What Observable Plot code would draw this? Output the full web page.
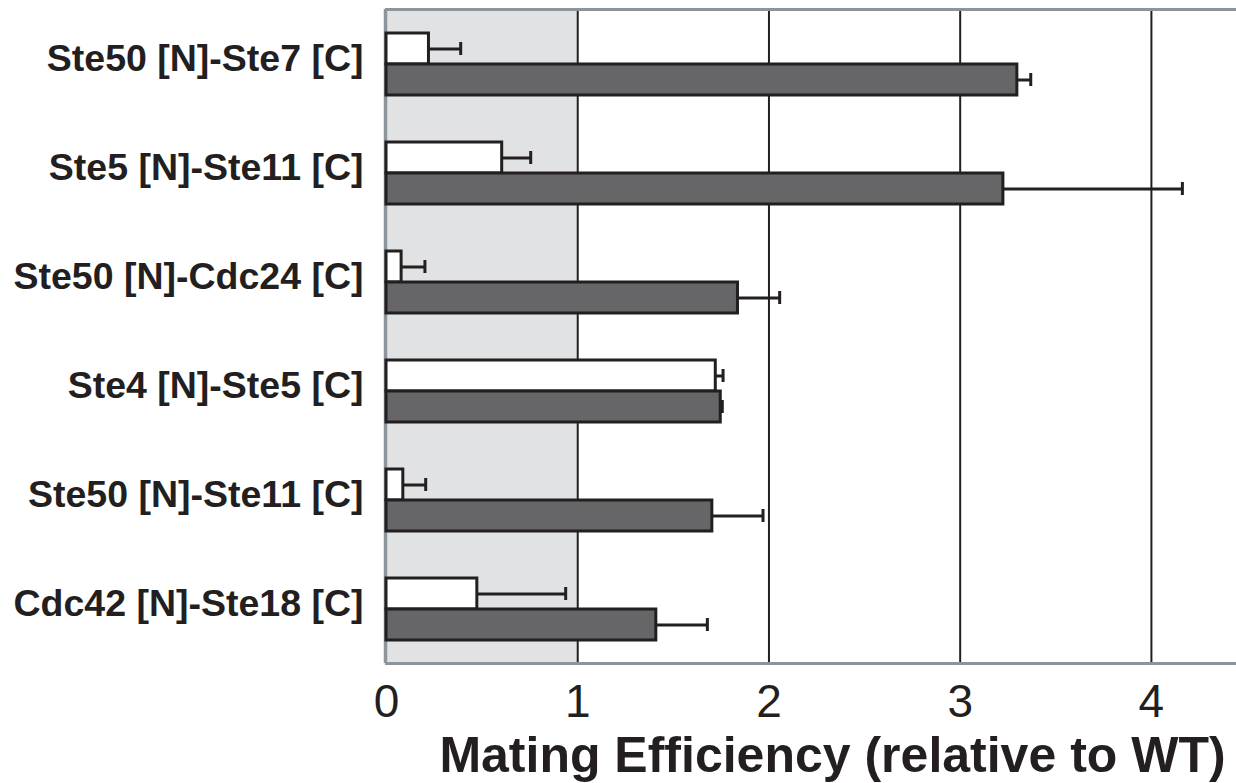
<!DOCTYPE html>
<html><head><meta charset="utf-8">
<script src="https://cdn.jsdelivr.net/npm/d3@7"></script>
<script src="https://cdn.jsdelivr.net/npm/@observablehq/plot@0.6"></script>
<style>body{margin:0;background:#fff} svg{display:block}</style>
</head><body><div id="chart"></div>
<script>
const categories = [
  "Ste50 [N]-Ste7 [C]",
  "Ste5 [N]-Ste11 [C]",
  "Ste50 [N]-Cdc24 [C]",
  "Ste4 [N]-Ste5 [C]",
  "Ste50 [N]-Ste11 [C]",
  "Cdc42 [N]-Ste18 [C]"
];
const series = ["Open", "Filled"];
const openValues   = [0.222, 0.605, 0.079, 1.722, 0.088, 0.475];
const openErrors   = [0.166, 0.149, 0.122, 0.038, 0.117, 0.462];
const filledValues = [3.299, 3.226, 1.838, 1.748, 1.704, 1.411];
const filledErrors = [0.070, 0.936, 0.218, 0.008, 0.265, 0.267];
const xTicks = [0, 1, 2, 3, 4];
const shaded = [{x1: 0, x2: 1}];
const xTitle = "Mating Efficiency (relative to WT)";

const rows = categories.flatMap((c, i) => [
  {cat: c, series: series[0], value: openValues[i], err: openErrors[i]},
  {cat: c, series: series[1], value: filledValues[i], err: filledErrors[i]}
]);

const ink = "#231f20";
const borderGray = "#8c959b";

const chart = Plot.plot({
  width: 1236, height: 783,
  marginLeft: 386, marginRight: 0, marginTop: 9, marginBottom: 120,
  style: {fontFamily: "'Liberation Sans', Arial, sans-serif", color: ink, background: "#fff"},
  x: {domain: [0, 4.445]},
  y: {domain: series, paddingInner: 0, paddingOuter: 0.73, axis: null},
  fy: {domain: categories, padding: 0},
  color: {domain: series, range: ["#ffffff", "#666567"]},
  marks: [
    Plot.rect(shaded, {x1: "x1", x2: "x2", fill: "#e1e2e4"}),
    Plot.ruleX(xTicks.slice(1), {stroke: ink, strokeWidth: 2}),
    Plot.ruleX([0], {stroke: borderGray, strokeWidth: 3.5, dx: -1}),
    Plot.barX(rows, {fy: "cat", y: "series", x: "value", fill: "series", stroke: ink, strokeWidth: 3}),
    Plot.ruleY(rows, {fy: "cat", y: "series", x1: "value", x2: d => d.value + d.err, stroke: ink, strokeWidth: 3}),
    Plot.tickX(rows, {fy: "cat", y: "series", x: d => d.value + d.err, stroke: ink, strokeWidth: 3, insetTop: 9, insetBottom: 9}),
    Plot.frame({anchor: "top", stroke: borderGray, strokeWidth: 3, facet: "super"}),
    Plot.frame({anchor: "bottom", stroke: borderGray, strokeWidth: 3, facet: "super"}),
    Plot.axisFy({anchor: "left", tickSize: 0, tickPadding: 23, fontSize: 37.5, fontWeight: "bold", label: null, dy: -5, fill: ink}),
    Plot.axisX({ticks: xTicks, tickFormat: d3.format("d"), tickSize: 0, tickPadding: 21, fontSize: 46, label: null, fill: ink}),
    Plot.text([xTitle], {text: d => d, frameAnchor: "bottom", facet: "super", lineAnchor: "middle", dx: 21, dy: 92, fontSize: 50, fontWeight: "bold", fill: ink})
  ]
});
document.getElementById("chart").appendChild(chart);
</script>
</body></html>
